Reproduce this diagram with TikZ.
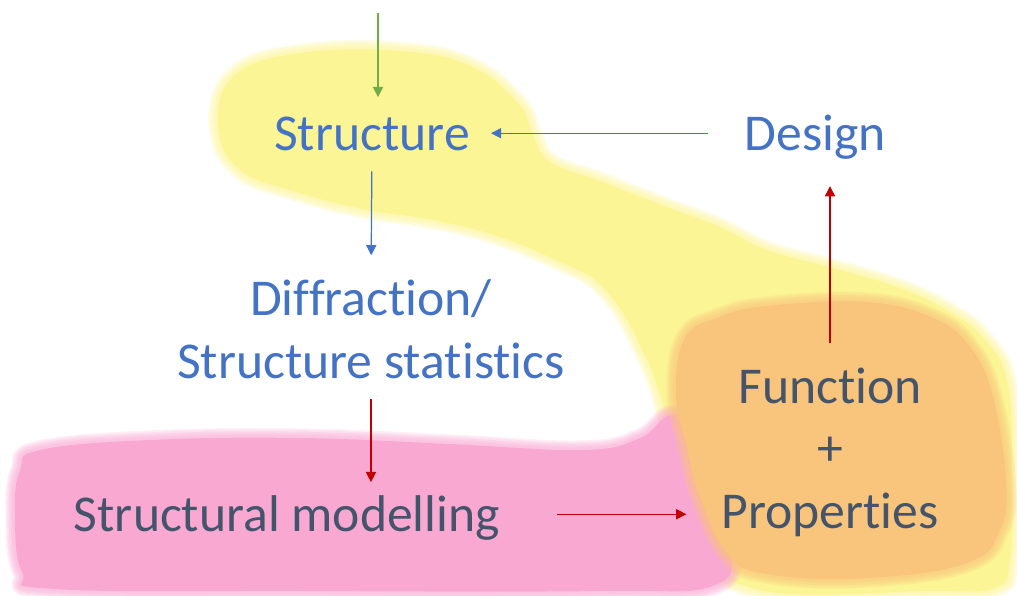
\documentclass[tikz,border=0pt]{standalone}
\usepackage{fontspec}
\setmainfont{Carlito}[Ligatures=NoCommon]
\usetikzlibrary{arrows.meta,positioning}
\definecolor{textblue}{HTML}{4472C4}
\definecolor{textgray}{HTML}{44546A}
\definecolor{leafgreen}{HTML}{70AD47}
\definecolor{darkred}{HTML}{C00000}
\definecolor{blobyellow}{HTML}{FCF595}
\definecolor{blobpink}{HTML}{F9A8D2}
\definecolor{bloborange}{HTML}{F9C47C}

% filled smooth blob with a soft, fading rim
\newcommand{\softblob}[2]{%
	\foreach \w in {11,9,7,5,3}
	{\draw [#1, opacity=0.2, line width=\w pt, line join=round] plot [smooth cycle, tension=0.7] coordinates {#2};}
	\fill [#1] plot [smooth cycle, tension=0.7] coordinates {#2};}

\begin{document}
\begin{tikzpicture}[x=0.02cm, y=-0.02cm,
		arrow/.style={-{Triangle[length=5.8pt, width=5.8pt]}, line width=0.7pt},
		term/.style={inner sep=0pt, anchor=base, font=\fontsize{29.4}{35.5}\selectfont, text height=19.1pt, text depth=0pt},
		terms/.style={inner sep=0pt, anchor=base, align=center, font=\fontsize{29.4}{35.5}\selectfont}]
	
	\useasboundingbox (0,0) rectangle (1017,595);
	
	% coloured areas
	\softblob{blobyellow}{(218,125) (235,75) (300,53) (400,51) (470,66) (518,103) (533,135) (550,162) (600,181) (667,207) (720,227) (767,250) (833,268) (900,288) (950,312) (985,340) (1008,385) (1012,480) (1010,560) (995,588) (930,591) (760,590) (700,540) (675,450) (657,385) (640,345) (620,308) (595,280) (567,265) (500,237) (433,220) (367,210) (300,193) (240,170)}
	\softblob{blobpink}{(15,512) (20,470) (40,450) (150,440) (300,438) (450,444) (584,450) (640,438) (675,415) (715,450) (730,540) (715,585) (600,591) (300,591) (55,589) (22,572)}
	\softblob{bloborange}{(685,338) (720,317) (767,306) (867,302) (933,318) (970,347) (993,397) (1006,480) (1000,530) (967,563) (867,578) (767,574) (727,553) (700,497) (687,447) (676,395)}
	
	\coordinate (top) at (378,13);
	\node [term, textblue] (struct) at (372,150) {Structure};
	\node [term, textblue] (design) at (815,150) {Design};
	\node [terms, textblue] (diffr) at (371,378.3) {Diffraction/\\Structure statistics};
	\node [term, textgray] (model) at (287,531) {Structural modelling};
	\node [terms, textgray] (func) at (830,528) {Function\\+\\Properties};
	
	\draw [arrow, leafgreen, shorten >=10.8pt] (top) -- (top |- struct.north);
	\draw [arrow, textblue, shorten <=20.4pt, shorten >=11.9pt] (design.west) -- (struct.east);
	\draw [arrow, textblue, shorten <=11.9pt, shorten >=13.9pt] (struct.south) -- (diffr.north);
	\draw [arrow, darkred, shorten <=11.3pt, shorten >=8.5pt] (diffr.south) -- (diffr.south |- model.north);
	\draw [arrow, darkred, shorten <=32.3pt, shorten >=19.8pt] (model.east) -- (model.east -| func.west);
	\draw [arrow, darkred, shorten <=13.6pt, shorten >=20.4pt] (func.north) -- (func.north |- design.south);
\end{tikzpicture}
\end{document}
